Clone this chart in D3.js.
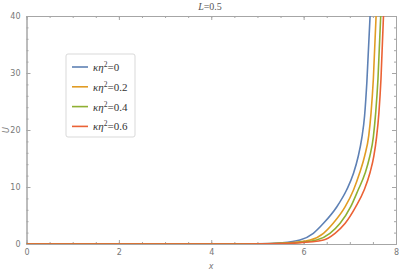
<!DOCTYPE html>
<html>
<head>
<meta charset="utf-8">
<script src="https://cdn.jsdelivr.net/npm/d3@7"></script>
<style>
  body { margin: 0; background: #fff; }
</style>
</head>
<body>
<svg width="399" height="272"></svg>
<script>
// values
var seriesNames = ["κη²=0", "κη²=0.2", "κη²=0.4", "κη²=0.6"];
var seriesKappa = ["0", "0.2", "0.4", "0.6"];
var seriesColors = ["#5e81b5", "#e19c24", "#8fb032", "#eb6235"];

var xBlue   = [0, 4, 5.0, 5.5, 5.92, 6.21, 6.43, 6.72, 6.93, 7.08, 7.18, 7.26, 7.32, 7.37, 7.44];
var uBlue   = [0, 0, 0.03, 0.2, 0.7, 1.88, 3.63, 6.54, 9.47, 12.4, 15.3, 18.6, 22.5, 28.5, 40.2];
var xOrange = [0, 4, 5.1, 5.6, 6.14, 6.43, 6.64, 6.9, 7.08, 7.21, 7.32, 7.41, 7.46, 7.51, 7.57];
var uOrange = [0, 0, 0.02, 0.15, 0.7, 1.88, 3.63, 6.54, 9.47, 12.4, 15.4, 19.0, 23.0, 29.0, 40.2];
var xGreen  = [0, 4, 5.2, 5.7, 6.28, 6.57, 6.79, 7.02, 7.18, 7.33, 7.43, 7.51, 7.56, 7.61, 7.67];
var uGreen  = [0, 0, 0.02, 0.15, 0.7, 1.88, 3.63, 6.54, 9.47, 12.4, 15.3, 18.8, 23.0, 29.0, 40.2];
var xRed    = [0, 4, 5.3, 5.8, 6.43, 6.68, 6.9, 7.13, 7.31, 7.44, 7.52, 7.58, 7.63, 7.675, 7.73];
var uRed    = [0, 0, 0.02, 0.15, 0.7, 1.88, 3.63, 6.54, 9.47, 12.6, 15.4, 18.8, 23.0, 29.0, 40.2];

var xTicks = [0, 2, 4, 6, 8];
var yTicks = [0, 10, 20, 30, 40];

var seriesX = [xBlue, xOrange, xGreen, xRed];
var seriesU = [uBlue, uOrange, uGreen, uRed];

var svg = d3.select("svg");
var plotLeft = 26.5, plotRight = 396, plotTop = 16, plotBottom = 244;

var x = d3.scaleLinear().domain([0, 8]).range([plotLeft, plotRight]);
var y = d3.scaleLinear().domain([0, 40]).range([plotBottom, plotTop]);

svg.append("defs").append("clipPath").attr("id", "plotclip")
    .append("rect")
    .attr("x", plotLeft).attr("y", plotTop)
    .attr("width", plotRight - plotLeft).attr("height", plotBottom - plotTop);

// frame ticks on all sides, pointing in
var frameColor = "#a6a6a6";
function frameAxis(axis, transform) {
    var g = svg.append("g").attr("transform", transform).call(axis);
    g.select(".domain").attr("stroke", frameColor);
    g.selectAll(".tick line").attr("stroke", frameColor);
    g.selectAll("text").style("font-family", "'DejaVu Sans', sans-serif")
        .style("font-size", "8px").attr("fill", "#777");
    return g;
}
var xMinor = d3.range(0, 8.01, 0.5);
var yMinor = d3.range(0, 40.1, 2);

frameAxis(d3.axisBottom(x).tickValues(xMinor).tickSize(-2).tickFormat(""), "translate(0," + plotBottom + ")");
frameAxis(d3.axisBottom(x).tickValues(xTicks).tickSize(-4).tickPadding(5).tickSizeOuter(0), "translate(0," + plotBottom + ")");
frameAxis(d3.axisTop(x).tickValues(xMinor).tickSize(-2).tickFormat(""), "translate(0," + plotTop + ")");
frameAxis(d3.axisTop(x).tickValues(xTicks).tickSize(-4).tickFormat("").tickSizeOuter(0), "translate(0," + plotTop + ")");
frameAxis(d3.axisLeft(y).tickValues(yMinor).tickSize(-2).tickFormat(""), "translate(" + plotLeft + ",0)");
frameAxis(d3.axisLeft(y).tickValues(yTicks).tickSize(-4).tickPadding(6).tickSizeOuter(0), "translate(" + plotLeft + ",0)");
frameAxis(d3.axisRight(y).tickValues(yMinor).tickSize(-2).tickFormat(""), "translate(" + plotRight + ",0)");
frameAxis(d3.axisRight(y).tickValues(yTicks).tickSize(-4).tickFormat("").tickSizeOuter(0), "translate(" + plotRight + ",0)");

// curves
var line = d3.line()
    .x(function(d) { return x(d[0]); })
    .y(function(d) { return y(d[1]); })
    .curve(d3.curveMonotoneX);

svg.append("g").attr("clip-path", "url(#plotclip)")
    .selectAll("path")
    .data(seriesX.map(function(xs, i) {
        return xs.map(function(v, j) { return [v, seriesU[i][j]]; });
    }))
    .enter().append("path")
    .attr("d", line)
    .attr("fill", "none")
    .attr("stroke-width", 1.6)
    .attr("stroke", function(d, i) { return seriesColors[i]; });

// title and axis labels
var title = svg.append("text")
    .attr("x", 210).attr("y", 10)
    .attr("text-anchor", "middle")
    .style("font-family", "'Liberation Serif', serif")
    .style("font-size", "10px")
    .attr("fill", "#555");
title.append("tspan").style("font-style", "italic").text("L");
title.append("tspan").text("=0.5");

svg.append("text")
    .attr("x", 211).attr("y", 269)
    .attr("text-anchor", "middle")
    .style("font-family", "'DejaVu Sans', sans-serif")
    .style("font-size", "8px").style("font-style", "italic")
    .attr("fill", "#777")
    .text("x");

svg.append("text")
    .attr("transform", "translate(9,130) rotate(-90)")
    .attr("text-anchor", "middle")
    .style("font-family", "'DejaVu Sans', sans-serif")
    .style("font-size", "8px").style("font-style", "italic")
    .attr("fill", "#777")
    .text("U");

// legend
var legend = svg.append("g").attr("transform", "translate(66,54)");
legend.append("rect")
    .attr("width", 69).attr("height", 83)
    .attr("rx", 2)
    .attr("fill", "#fff")
    .attr("stroke", "#d9d9d9");

var items = legend.selectAll("g.item")
    .data(seriesNames)
    .enter().append("g")
    .attr("class", "item")
    .attr("transform", function(d, i) { return "translate(0," + (13 + i * 19.8) + ")"; });

items.append("line")
    .attr("x1", 6).attr("x2", 22)
    .attr("stroke-width", 1.6)
    .attr("stroke", function(d, i) { return seriesColors[i]; });

var labels = items.append("text")
    .attr("x", 27).attr("y", 4)
    .style("font-family", "'Liberation Serif', serif")
    .style("font-size", "11px")
    .attr("fill", "#333");
labels.append("tspan").style("font-style", "italic").text("κη");
labels.append("tspan").attr("dy", -4).style("font-size", "7.5px").text("2");
labels.append("tspan").attr("dy", 4).text(function(d, i) { return "=" + seriesKappa[i]; });
</script>
</body>
</html>
